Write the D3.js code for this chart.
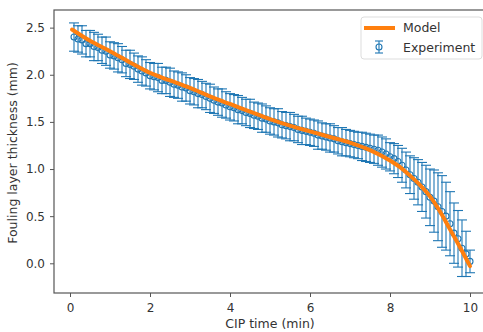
<!DOCTYPE html>
<html>
<head>
<meta charset="utf-8">
<script src="https://cdn.jsdelivr.net/npm/d3@7"></script>
<style>
  body { margin: 0; background: #fff; }
  text { font-family: "DejaVu Sans", sans-serif; fill: #333; }
</style>
</head>
<body>
<script>
// model curve (min, mm)
var modelTime = [0.05, 0.5, 1, 1.5, 2, 2.5, 3, 3.5, 4, 4.5, 5, 5.5, 6, 6.5, 7, 7.5, 8, 8.25, 8.5, 8.75, 9, 9.25, 9.5, 9.75, 10];
var modelThick = [2.48, 2.36, 2.25, 2.13, 2.02, 1.94, 1.86, 1.77, 1.69, 1.61, 1.53, 1.46, 1.40, 1.34, 1.28, 1.20, 1.09, 1.02, 0.93, 0.83, 0.71, 0.55, 0.36, 0.17, -0.03];

// experiment points
var expTime = [0.1,0.2,0.3,0.4,0.5,0.6,0.7,0.8,0.9,1.0,
  1.1,1.2,1.3,1.4,1.5,1.6,1.7,1.8,1.9,2.0,
  2.1,2.2,2.3,2.4,2.5,2.6,2.7,2.8,2.9,3.0,
  3.1,3.2,3.3,3.4,3.5,3.6,3.7,3.8,3.9,4.0,
  4.1,4.2,4.3,4.4,4.5,4.6,4.7,4.8,4.9,5.0,
  5.1,5.2,5.3,5.4,5.5,5.6,5.7,5.8,5.9,6.0,
  6.1,6.2,6.3,6.4,6.5,6.6,6.7,6.8,6.9,7.0,
  7.1,7.2,7.3,7.4,7.5,7.6,7.7,7.8,7.9,8.0,
  8.1,8.2,8.3,8.4,8.5,8.6,8.7,8.8,8.9,9.0,
  9.1,9.2,9.3,9.4,9.5,9.6,9.7,9.8,9.9,10.0];
var expThick = [2.40,2.38,2.37,2.33,2.33,2.30,2.29,2.26,2.25,2.21,
  2.20,2.18,2.16,2.12,2.11,2.09,2.06,2.04,2.02,1.99,
  1.98,1.97,1.94,1.94,1.92,1.90,1.89,1.87,1.86,1.83,
  1.82,1.80,1.79,1.77,1.75,1.73,1.71,1.70,1.68,1.66,
  1.65,1.63,1.62,1.60,1.59,1.57,1.56,1.54,1.53,1.51,
  1.50,1.49,1.47,1.46,1.45,1.44,1.42,1.41,1.40,1.39,
  1.38,1.36,1.35,1.34,1.33,1.32,1.30,1.29,1.28,1.27,
  1.26,1.25,1.24,1.23,1.22,1.21,1.20,1.18,1.16,1.13,
  1.11,1.08,1.04,0.99,0.94,0.90,0.86,0.81,0.76,0.70,
  0.66,0.60,0.55,0.50,0.42,0.32,0.26,0.16,0.10,0.02];
var expErr = [0.15,0.14,0.15,0.14,0.14,0.15,0.14,0.14,0.15,0.14,
  0.14,0.15,0.14,0.14,0.15,0.14,0.14,0.15,0.14,0.14,
  0.14,0.15,0.14,0.14,0.15,0.14,0.14,0.15,0.14,0.14,
  0.14,0.15,0.14,0.14,0.15,0.14,0.14,0.15,0.14,0.14,
  0.14,0.15,0.14,0.14,0.15,0.14,0.14,0.15,0.14,0.14,
  0.14,0.15,0.14,0.14,0.15,0.14,0.14,0.15,0.14,0.14,
  0.14,0.15,0.14,0.14,0.15,0.14,0.14,0.15,0.14,0.14,
  0.14,0.14,0.15,0.15,0.15,0.15,0.16,0.16,0.16,0.15,
  0.16,0.17,0.18,0.19,0.20,0.22,0.24,0.26,0.28,0.30,
  0.33,0.36,0.38,0.36,0.34,0.32,0.30,0.30,0.24,0.12];

var xTicks = [0, 2, 4, 6, 8, 10];
var yTicks = [0.0, 0.5, 1.0, 1.5, 2.0, 2.5];

var W = 483, H = 332;
var mLeft = 54, mTop = 10, mRight = 486, mBottom = 293;

var svg = d3.select("body").append("svg").attr("width", W).attr("height", H);

var x = d3.scaleLinear().domain([-0.4, 10.4]).range([mLeft, mRight]);
var y = d3.scaleLinear().domain([-0.315, 2.687]).range([mBottom, mTop]);

var blue = "#1f77b4", orange = "#ff7f0e";

// error bars
var pts = expTime.map(function (t, i) { return { t: t, v: expThick[i], e: expErr[i] }; });
var eb = svg.append("g").attr("stroke", blue).attr("stroke-width", 1.1).attr("fill", "none");
pts.forEach(function (d) {
  var cx = x(d.t), y1 = y(d.v + d.e), y0 = y(d.v - d.e);
  eb.append("line").attr("x1", cx).attr("x2", cx).attr("y1", y1).attr("y2", y0);
  eb.append("line").attr("x1", cx - 5).attr("x2", cx + 5).attr("y1", y1).attr("y2", y1);
  eb.append("line").attr("x1", cx - 5).attr("x2", cx + 5).attr("y1", y0).attr("y2", y0);
  eb.append("circle").attr("cx", cx).attr("cy", y(d.v)).attr("r", 3);
});

// model line
var line = d3.line().curve(d3.curveMonotoneX)
  .x(function (d, i) { return x(modelTime[i]); })
  .y(function (d) { return y(d); });
svg.append("path").datum(modelThick).attr("d", line)
  .attr("fill", "none").attr("stroke", orange).attr("stroke-width", 4).attr("stroke-linecap", "round");

// axes
var xAxis = d3.axisBottom(x).tickValues(xTicks).tickSize(4).tickPadding(6).tickFormat(d3.format("d"));
var yAxis = d3.axisLeft(y).tickValues(yTicks).tickSize(4).tickPadding(5).tickFormat(d3.format(".1f"));
var gx = svg.append("g").attr("transform", "translate(0," + mBottom + ")").call(xAxis);
var gy = svg.append("g").attr("transform", "translate(" + mLeft + ",0)").call(yAxis);
[gx, gy].forEach(function (g) {
  g.select(".domain").remove();
  g.selectAll("line").attr("stroke", "#555");
  g.selectAll("text").attr("font-size", 12).attr("fill", "#333").style("font-family", "DejaVu Sans");
});

// frame
svg.append("rect").attr("x", mLeft).attr("y", mTop).attr("width", mRight - mLeft).attr("height", mBottom - mTop)
  .attr("fill", "none").attr("stroke", "#555").attr("stroke-width", 1.2);

// labels
svg.append("text").attr("x", 270).attr("y", 328).attr("text-anchor", "middle")
  .attr("font-size", 12.5).text("CIP time (min)");
svg.append("text").attr("transform", "translate(17,153) rotate(-90)").attr("text-anchor", "middle")
  .attr("font-size", 12.5).text("Fouling layer thickness (mm)");

// legend
var lg = svg.append("g");
lg.append("rect").attr("x", 361).attr("y", 17).attr("width", 121).attr("height", 42).attr("rx", 3)
  .attr("fill", "#fff").attr("fill-opacity", 0.8).attr("stroke", "#ddd");
lg.append("line").attr("x1", 364).attr("x2", 395).attr("y1", 28).attr("y2", 28)
  .attr("stroke", orange).attr("stroke-width", 4);
lg.append("text").attr("x", 403).attr("y", 32).attr("font-size", 12.5).text("Model");
var mk = lg.append("g").attr("stroke", blue).attr("fill", "none").attr("stroke-width", 1.1);
mk.append("line").attr("x1", 379).attr("x2", 379).attr("y1", 41).attr("y2", 53);
mk.append("line").attr("x1", 375).attr("x2", 383).attr("y1", 41).attr("y2", 41);
mk.append("line").attr("x1", 375).attr("x2", 383).attr("y1", 53).attr("y2", 53);
mk.append("circle").attr("cx", 379).attr("cy", 47).attr("r", 3);
lg.append("text").attr("x", 403).attr("y", 52).attr("font-size", 12.5).text("Experiment");
</script>
</body>
</html>
